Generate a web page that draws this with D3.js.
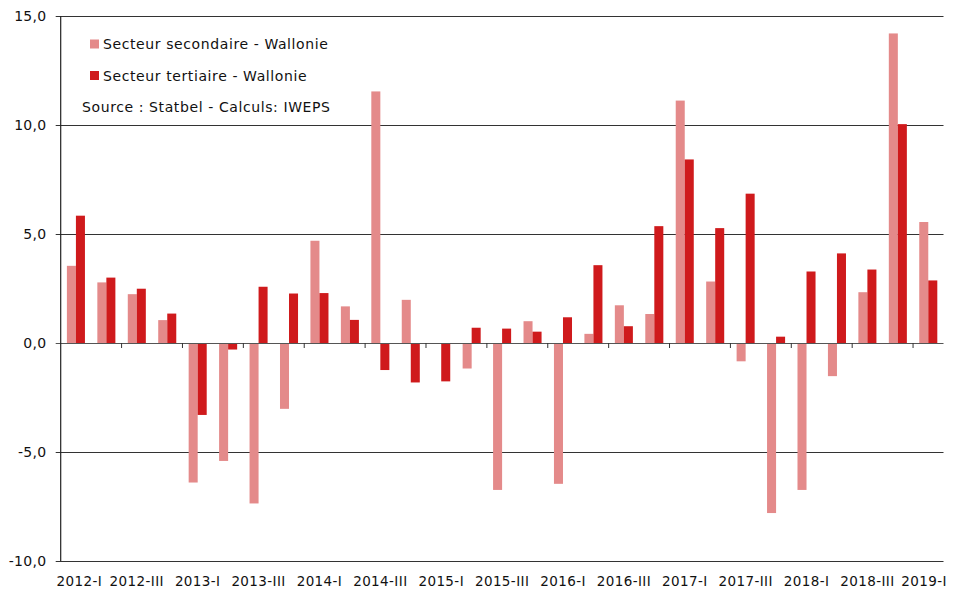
<!DOCTYPE html>
<meta charset="utf-8">
<head>
<style>
  body { margin: 0; background: #fff; }
  text { font-family: "DejaVu Sans", sans-serif; fill: #111; }
</style>
</head>
<body>
<script src="https://cdnjs.cloudflare.com/ajax/libs/d3/7.8.5/d3.min.js"></script>
<script>

const quarters = [];
for (let yr = 2012; yr <= 2019; yr++) {
  for (const q of ["I", "II", "III", "IV"]) {
    if (yr === 2019 && q !== "I") break;
    quarters.push(yr + "-" + q);
  }
}

const seriesNames = ["Secteur secondaire - Wallonie", "Secteur tertiaire - Wallonie"];

const secondaire = [3.54, 2.78, 2.24, 1.05, -6.40, -5.41, -7.36, -3.02, 4.69, 1.68,
  11.54, 1.98, -0.03, -1.17, -6.74, 1.00, -6.46, 0.42, 1.73, 1.33,
  11.12, 2.82, -0.84, -7.80, -6.74, -1.52, 2.33, 14.20, 5.55];

const tertiaire = [5.84, 3.00, 2.49, 1.35, -3.30, -0.30, 2.58, 2.27, 2.29, 1.06,
  -1.24, -1.81, -1.76, 0.70, 0.66, 0.52, 1.18, 3.57, 0.77, 5.36,
  8.42, 5.27, 6.85, 0.29, 3.28, 4.11, 3.37, 10.04, 2.87];

const yTicks = [-10, -5, 0, 5, 10, 15];
const sourceText = "Source : Statbel - Calculs: IWEPS";

const colors = ["#e48a8a", "#cf1a1c"];

const W = 953, H = 593;
const m = {left: 60.7, right: 943.5, top: 16, bottom: 561};

const svg = d3.select("body").append("svg")
  .attr("width", W)
  .attr("height", H);

const x = d3.scaleBand().domain(quarters).range([m.left, m.right]).padding(0);
const xs = d3.scaleBand().domain(seriesNames).range([6.2, x.bandwidth() - 6.2]);
const y = d3.scaleLinear().domain([-10, 15]).range([m.bottom, m.top]);

const fmt = v => d3.format(".1f")(v).replace(".", ",").replace("\u2212", "-");

// grid lines
svg.append("g")
  .selectAll("line")
  .data(yTicks.filter(d => d !== 0))
  .join("line")
    .attr("x1", m.left - 5)
    .attr("x2", m.right)
    .attr("y1", d => y(d) + 0.5)
    .attr("y2", d => y(d) + 0.5)
    .attr("stroke", "#333")
    .attr("stroke-width", 1.2);

// y labels
svg.append("g")
  .selectAll("text")
  .data(yTicks)
  .join("text")
    .attr("x", 46.5)
    .attr("y", d => y(d) + 5)
    .attr("text-anchor", "end")
    .style("font-size", "14px")
    .style("letter-spacing", "0.3px")
    .text(fmt);

// bars
const data = quarters.map((q, i) => ({q, vals: [secondaire[i], tertiaire[i]]}));

const groups = svg.append("g")
  .selectAll("g")
  .data(data)
  .join("g")
    .attr("transform", d => "translate(" + x(d.q) + ",0)");

groups.selectAll("rect")
  .data(d => d.vals.map((v, k) => ({v, k})))
  .join("rect")
    .attr("x", d => xs(seriesNames[d.k]))
    .attr("width", xs.bandwidth())
    .attr("y", d => y(Math.max(0, d.v)))
    .attr("height", d => Math.abs(y(d.v) - y(0)))
    .attr("fill", d => colors[d.k]);

// zero line and ticks
svg.append("line")
  .attr("x1", m.left - 5).attr("x2", m.right)
  .attr("y1", y(0) + 0.5).attr("y2", y(0) + 0.5)
  .attr("stroke", "#555").attr("stroke-width", 1.2);

svg.append("g")
  .selectAll("line")
  .data(quarters.filter((q, i) => i % 2 === 0 && i > 0))
  .join("line")
    .attr("x1", d => x(d)).attr("x2", d => x(d))
    .attr("y1", y(0)).attr("y2", y(0) + 5)
    .attr("stroke", "#333");

// y axis
svg.append("line")
  .attr("x1", m.left).attr("x2", m.left)
  .attr("y1", m.top).attr("y2", m.bottom)
  .attr("stroke", "#222").attr("stroke-width", 1.2);

// x labels
svg.append("g")
  .selectAll("text")
  .data(quarters.filter((q, i) => i % 2 === 0))
  .join("text")
    .attr("x", (d, i) => i === 0 ? x(d) + x.bandwidth() / 2 + 3.5
      : Math.min(x(d) + x.bandwidth() / 2, W - 29))
    .attr("y", 586)
    .attr("text-anchor", "middle")
    .style("font-size", "13.5px")
    .style("letter-spacing", "0.4px")
    .text(d => d);

// legend
const legend = svg.append("g");
seriesNames.forEach((name, k) => {
  const cy = 44 + k * 31.5;
  legend.append("rect")
    .attr("x", 90).attr("y", cy - 4.5)
    .attr("width", 9).attr("height", 9)
    .attr("fill", colors[k]);
  legend.append("text")
    .attr("x", 103).attr("y", cy + 5)
    .style("font-size", "14px")
    .style("letter-spacing", "0.6px")
    .text(name);
});
legend.append("text")
  .attr("x", 82).attr("y", 111.5)
  .style("font-size", "14px")
  .style("letter-spacing", "0.6px")
  .text(sourceText);

</script>
</body>
